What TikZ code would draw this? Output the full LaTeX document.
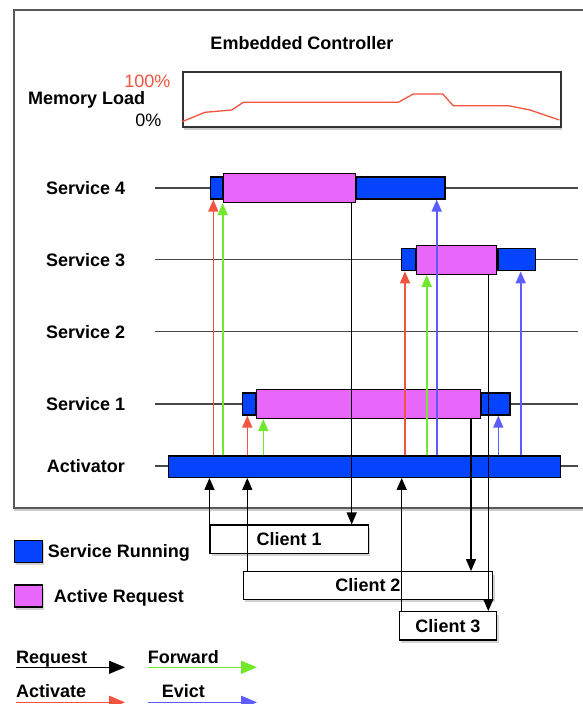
\documentclass[tikz,border=0pt]{standalone}
\usepackage{fontspec}
\setmainfont{Liberation Sans}
\usetikzlibrary{positioning,shadows,arrows.meta}

\definecolor{runblue}{RGB}{4,68,255}
\definecolor{reqpink}{RGB}{233,102,250}
\definecolor{actred}{RGB}{242,84,64}
\definecolor{fwdgreen}{RGB}{112,232,44}
\definecolor{evictblue}{RGB}{92,92,255}
\definecolor{linegray}{RGB}{72,72,72}

\begin{document}
\begin{tikzpicture}[
            x=1pt, y=-1pt,
            font=\fontsize{18}{21}\selectfont,
            >={Triangle[width=10pt,length=12pt]},
            label/.style={font=\fontsize{18}{21}\selectfont\bfseries, inner sep=0pt, text depth=0pt, anchor=west},
            run/.style={rectangle, draw=black, fill=runblue, line width=1.2pt, inner sep=0pt, minimum height=22pt},
            req/.style={rectangle, draw=black, fill=reqpink, line width=1.2pt, inner sep=0pt, minimum height=29pt},
            client/.style={rectangle, draw=black, fill=white, line width=1.2pt, inner sep=0pt,
                drop shadow={shadow xshift=2pt, shadow yshift=-3pt, opacity=.35},
                font=\fontsize{18}{21}\selectfont\bfseries},
            timeline/.style={draw=linegray, line width=1.2pt},
            request/.style={->, draw=black, line width=1.4pt},
            activate/.style={->, draw=actred, line width=1.6pt},
            forward/.style={->, draw=fwdgreen, line width=1.6pt},
            evict/.style={->, draw=evictblue, line width=1.6pt}
        ]
        \useasboundingbox (0,0) rectangle (582,704);

        %controller frame
        \path[draw=black!65, line width=2pt, fill=white,
              drop shadow={shadow xshift=0pt, shadow yshift=-3pt, opacity=.4}]
            (14,10) rectangle (600,508);
        \node[label, anchor=center]     (title)     at (302,43.3)   {Embedded Controller};

        %memory load
        \node[draw=black!80, line width=1.5pt, fill=white, minimum width=378pt, minimum height=55pt,
              anchor=north west, drop shadow={shadow xshift=1pt, shadow yshift=-3pt, opacity=.4}]
                                        (mem)       at (182,71)     {};
        \node[anchor=east, inner sep=0pt, text depth=0pt, text=actred]
                                        (full)      at (170.7,81.7) {100\%};
        \node[label]                    (memlabel)  at (28,98.3)    {Memory Load};
        \node[anchor=east, inner sep=0pt, text depth=0pt]
                                        (empty)     at (161.5,120.7) {0\%};
        \draw[actred, line width=1.3pt] (182,121.7) -- (205,112.3) -- (231.7,110) -- (243.3,102.3)
            -- (398.3,102.3) -- (413.3,94) -- (442.7,94) -- (453.3,105.7) -- (508.3,105.7)
            -- (530,110) -- (559.3,120);

        %row labels
        \node[label]    (l4)    at (46,188)     {Service 4};
        \node[label]    (l3)    at (46,259.5)   {Service 3};
        \node[label]    (l2)    at (46,331.7)   {Service 2};
        \node[label]    (l1)    at (46,404)     {Service 1};
        \node[label]    (lact)  at (46.7,466)   {Activator};

        %timelines
        \draw[timeline] (155,188) -- (578,188);
        \draw[timeline] (155,259.5) -- (578,259.5);
        \draw[timeline] (155,331.7) -- (578,331.7);
        \draw[timeline] (155,404) -- (578,404);
        \draw[timeline] (155,466) -- (578,466);

        %service bars
        \node[run, minimum width=11.7pt, anchor=west]   (s4_start)  at (210,188)    {};
        \node[req, minimum width=131.6pt]               (s4_req)    [right=0pt of s4_start] {};
        \node[run, minimum width=88.7pt]                (s4_end)    [right=0pt of s4_req]   {};

        \node[run, minimum width=14pt, anchor=west]     (s3_start)  at (401,259.8)  {};
        \node[req, minimum width=80pt]                  (s3_req)    [right=0pt of s3_start] {};
        \node[run, minimum width=37.7pt]                (s3_end)    [right=0pt of s3_req]   {};

        \node[run, minimum width=13.3pt, anchor=west]   (s1_start)  at (241.7,404)  {};
        \node[req, minimum width=223.3pt]               (s1_req)    [right=0pt of s1_start] {};
        \node[run, minimum width=28.7pt]                (s1_end)    [right=0pt of s1_req]   {};

        \node[run, minimum width=392.3pt, minimum height=21.3pt, anchor=west]
                                                        (act)       at (167.7,466.7) {};

        %clients
        \node[client, minimum width=158.3pt, minimum height=28.3pt] (client1) at (289.2,539.2) {Client 1};
        \node[client, minimum width=249.4pt, minimum height=27.6pt] (client2) at (368,585.5)   {Client 2};
        \node[client, minimum width=97.4pt, minimum height=28.3pt]  (client3) at (448,625.8)   {Client 3};

        %activator to services
        \draw[activate] (213.3,0 |- act.north) -- (213.3,0 |- s4_start.south);
        \draw[forward]  (222.7,0 |- act.north) -- (222.7,0 |- s4_req.south);
        \draw[evict]    (436.7,0 |- act.north) -- (436.7,0 |- s4_end.south);
        \draw[activate] (405,0 |- act.north)   -- (405,0 |- s3_start.south);
        \draw[forward]  (426.7,0 |- act.north) -- (426.7,0 |- s3_req.south);
        \draw[evict]    (520.7,0 |- act.north) -- (520.7,0 |- s3_end.south);
        \draw[activate] (247.3,0 |- act.north) -- (247.3,0 |- s1_start.south);
        \draw[forward]  (263.3,0 |- act.north) -- (263.3,0 |- s1_req.south);
        \draw[evict]    (498.3,0 |- act.north) -- (498.3,0 |- s1_end.south);

        %client requests
        \draw[request]  (client1.north west) -- (client1.north west |- act.south);
        \draw[request]  (247.3,0 |- client2.north) -- (247.3,0 |- act.south);
        \draw[request]  (401.7,0 |- client3.north) -- (401.7,0 |- act.south);

        %replies
        \draw[request]  (351.7,0 |- s4_req.south) -- (351.7,0 |- client1.north);
        \draw[request]  (471,0 |- s1_req.south)   -- (471,0 |- client2.north);
        \draw[request]  (488.3,0 |- s3_req.south) -- (488.3,0 |- client3.north);

        %legend
        \node[run, minimum width=28pt, anchor=north west,
              drop shadow={shadow xshift=1pt, shadow yshift=-3pt, opacity=.35}]
                                        (key_run)   at (14,539.5)   {};
        \node[label]                    (key_runtxt) [right=4.5pt of key_run] {Service Running};
        \node[req, minimum width=28pt, minimum height=22pt, anchor=north west,
              drop shadow={shadow xshift=1pt, shadow yshift=-3pt, opacity=.35}]
                                        (key_req)   at (14,584.3)   {};
        \node[label]                    (key_reqtxt) [right=10.5pt of key_req] {Active Request};

        \node[label]    (key_request)   at (16,657.7)   {Request};
        \node[label]    (key_forward)   at (147.7,657)  {Forward};
        \node[label]    (key_activate)  at (16,691)     {Activate};
        \node[label]    (key_evict)     at (161.7,691)  {Evict};

        \coordinate (kreq_a) at (16,667.3);
        \coordinate (kreq_b) at (125,667.3);
        \coordinate (kfwd_a) at (147.7,667.3);
        \coordinate (kfwd_b) at (257,667.3);
        \coordinate (kact_a) at (16,702.3);
        \coordinate (kact_b) at (125,702.3);
        \coordinate (kev_a)  at (147.7,702.3);
        \coordinate (kev_b)  at (257,702.3);
        \draw[request,  -{Triangle[width=13pt,length=16pt]}] (kreq_a) -- (kreq_b);
        \draw[forward,  -{Triangle[width=13pt,length=16pt]}] (kfwd_a) -- (kfwd_b);
        \draw[activate, -{Triangle[width=13pt,length=16pt]}] (kact_a) -- (kact_b);
        \draw[evict,    -{Triangle[width=13pt,length=16pt]}] (kev_a)  -- (kev_b);

\end{tikzpicture}
\end{document}
